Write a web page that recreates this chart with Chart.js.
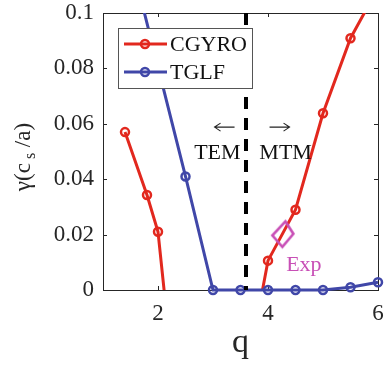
<!DOCTYPE html>
<html>
<head>
<meta charset="utf-8">
<script src="https://cdn.jsdelivr.net/npm/chart.js@4"></script>
<style>
  html, body { margin: 0; padding: 0; background: #fff; }
</style>
</head>
<body>
<canvas id="growthChart" width="391" height="365"></canvas>
<script>
// growth rate vs safety factor, CGYRO and TGLF scans
const cgyroQ     = [1.4, 1.8, 2.0, 2.2, 3.0, 3.8, 4.0, 4.5, 5.0, 5.5, 6.0];
const cgyroGamma = [0.057, 0.0343, 0.021, -0.017, null, -0.0106, 0.0106, 0.029, 0.0638, 0.0909, 0.109];

const tglfQ     = [1.5, 2.5, 3.0, 3.5, 4.0, 4.5, 5.0, 5.5, 6.0];
const tglfGamma = [0.12, 0.041, 0, 0, 0, 0, 0, 0.001, 0.0028];

const expQ     = [4.27];
const expGamma = [0.0201];

const xTicks = [2, 4, 6];
const boundaryQ = 3.6;  // TEM / MTM split

const RED = '#e2281e';
const BLUE = '#4047a8';
const MAGENTA = '#c84fb6';
const INK = '#262626';
const SERIF = "'Liberation Serif', 'Times New Roman', serif";

function toPoints(qs, gs) {
    return qs.map((q, i) => ({ x: q, y: gs[i] }));
}

// slightly skewed open diamond for the experimental point
function diamondMarker() {
    const c = document.createElement('canvas');
    c.width = 30;
    c.height = 34;
    const g = c.getContext('2d');
    g.translate(15, 17);
    g.strokeStyle = MAGENTA;
    g.lineWidth = 2.6;
    g.lineJoin = 'miter';
    g.beginPath();
    g.moveTo(2.5, -13);
    g.lineTo(10.5, -0.5);
    g.lineTo(-0.5, 12.5);
    g.lineTo(-10.5, 1);
    g.closePath();
    g.stroke();
    return c;
}

// horizontal arrow with an open head
function arrow(ctx, cx, cy, dir) {
    const half = 10;
    ctx.beginPath();
    ctx.moveTo(cx - half, cy);
    ctx.lineTo(cx + half, cy);
    const tip = cx + dir * half;
    ctx.moveTo(tip - dir * 6, cy - 4);
    ctx.lineTo(tip, cy);
    ctx.lineTo(tip - dir * 6, cy + 4);
    ctx.stroke();
}

// axes box with inward ticks, drawn under the lines
const boxPlugin = {
    id: 'box',
    beforeDatasetsDraw(chart) {
        const { ctx, chartArea: a, scales } = chart;
        ctx.save();
        ctx.strokeStyle = INK;
        ctx.lineWidth = 1;
        ctx.strokeRect(a.left + 0.5, a.top + 0.5, a.right - a.left, a.bottom - a.top);
        ctx.beginPath();
        xTicks.forEach(v => {
            const x = Math.round(scales.x.getPixelForValue(v)) + 0.5;
            ctx.moveTo(x, a.bottom); ctx.lineTo(x, a.bottom - 4);
            ctx.moveTo(x, a.top); ctx.lineTo(x, a.top + 4);
        });
        [0.02, 0.04, 0.06, 0.08].forEach(v => {
            const y = Math.round(scales.y.getPixelForValue(v)) + 0.5;
            ctx.moveTo(a.left, y); ctx.lineTo(a.left + 4, y);
            ctx.moveTo(a.right, y); ctx.lineTo(a.right - 4, y);
        });
        ctx.stroke();
        ctx.restore();
    }
};

// dashed boundary, mode labels, legend and axis titles
const overlayPlugin = {
    id: 'overlay',
    afterDatasetsDraw(chart) {
        const { ctx, chartArea: a, scales } = chart;
        const px = v => scales.x.getPixelForValue(v);
        const py = v => scales.y.getPixelForValue(v);
        ctx.save();

        // boundary line
        ctx.beginPath();
        ctx.setLineDash([12, 9]);
        ctx.strokeStyle = '#000';
        ctx.lineWidth = 4;
        const bx = px(boundaryQ);
        ctx.moveTo(bx, a.top);
        ctx.lineTo(bx, a.bottom);
        ctx.stroke();
        ctx.setLineDash([]);

        // mode labels
        ctx.strokeStyle = '#222';
        ctx.lineWidth = 1.1;
        arrow(ctx, px(3.21), py(0.0588), -1);
        arrow(ctx, px(4.21), py(0.0588), 1);

        ctx.fillStyle = '#111';
        ctx.textAlign = 'center';
        ctx.textBaseline = 'middle';
        ctx.font = '22px ' + SERIF;
        ctx.fillText('TEM', px(3.08), py(0.0495));
        ctx.fillText('MTM', px(4.32), py(0.0495));

        ctx.fillStyle = MAGENTA;
        ctx.textAlign = 'left';
        ctx.fillText('Exp', px(4.33), py(0.009));

        // legend
        const lx = a.left + 15, ly = a.top + 15;
        ctx.fillStyle = '#fff';
        ctx.fillRect(lx, ly, 134, 60);
        ctx.strokeStyle = '#555';
        ctx.lineWidth = 1;
        ctx.strokeRect(lx + 0.5, ly + 0.5, 134, 60);
        [['CGYRO', RED, ly + 16], ['TGLF', BLUE, ly + 44]].forEach(([label, color, y]) => {
            ctx.strokeStyle = color;
            ctx.lineWidth = 3;
            ctx.beginPath();
            ctx.moveTo(lx + 6, y);
            ctx.lineTo(lx + 49, y);
            ctx.stroke();
            ctx.lineWidth = 2.5;
            ctx.beginPath();
            ctx.arc(lx + 27, y, 4, 0, Math.PI * 2);
            ctx.stroke();
            ctx.fillStyle = '#111';
            ctx.textAlign = 'left';
            ctx.textBaseline = 'middle';
            ctx.font = '22px ' + SERIF;
            ctx.fillText(label, lx + 52, y + 1);
        });

        // x title
        ctx.fillStyle = INK;
        ctx.textAlign = 'center';
        ctx.textBaseline = 'alphabetic';
        ctx.font = '34px ' + SERIF;
        ctx.fillText('q', (a.left + a.right) / 2, 352);

        // y title with subscript
        ctx.translate(30, 157);
        ctx.rotate(-Math.PI / 2);
        const big = '23px ' + SERIF, small = '16px ' + SERIF;
        const parts = [['\u03b3(c', big, 0], [' s', small, 5], [' /a)', big, 0]];
        let total = 0;
        parts.forEach(([t, f]) => { ctx.font = f; total += ctx.measureText(t).width; });
        let x = -total / 2;
        ctx.textAlign = 'left';
        parts.forEach(([t, f, dy]) => {
            ctx.font = f;
            ctx.fillText(t, x, dy);
            x += ctx.measureText(t).width;
        });
        ctx.restore();
    }
};

new Chart(document.getElementById('growthChart'), {
    type: 'line',
    data: {
        datasets: [
            {
                label: 'Exp',
                data: toPoints(expQ, expGamma),
                showLine: false,
                pointStyle: diamondMarker(),
                pointRadius: 12,
                order: 0
            },
            {
                label: 'TGLF',
                data: toPoints(tglfQ, tglfGamma),
                borderColor: BLUE,
                borderWidth: 3,
                pointRadius: 4,
                pointBorderWidth: 2.5,
                pointBackgroundColor: 'rgba(0,0,0,0)',
                clip: { left: 0, top: 0, right: 8, bottom: 8 },
                order: 1
            },
            {
                label: 'CGYRO',
                data: toPoints(cgyroQ, cgyroGamma),
                borderColor: RED,
                borderWidth: 3,
                pointRadius: 4,
                pointBorderWidth: 2.5,
                pointBackgroundColor: 'rgba(0,0,0,0)',
                clip: 0,
                order: 2
            }
        ]
    },
    options: {
        responsive: false,
        animation: false,
        layout: { padding: { left: 0, top: 13, right: 0, bottom: 0 } },
        plugins: { legend: { display: false }, tooltip: { enabled: false } },
        elements: { line: { tension: 0 } },
        scales: {
            x: {
                type: 'linear',
                min: 1,
                max: 6,
                grid: { display: false, drawTicks: false },
                border: { display: false },
                afterBuildTicks: scale => { scale.ticks = xTicks.map(v => ({ value: v })); },
                afterFit: scale => {
                    scale.height = 75;
                    scale.paddingLeft = 0;
                    scale.paddingRight = 7;
                },
                ticks: {
                    padding: 10,
                    color: INK,
                    font: { family: SERIF, size: 23 },
                    maxRotation: 0
                }
            },
            y: {
                min: 0,
                max: 0.1,
                grid: { display: false, drawTicks: false },
                border: { display: false },
                afterFit: scale => {
                    scale.width = 103;
                    scale.paddingTop = 0;
                    scale.paddingBottom = 0;
                },
                ticks: {
                    stepSize: 0.02,
                    padding: 9,
                    color: INK,
                    font: { family: SERIF, size: 23 },
                    callback: v => v === 0 ? '0' : String(+v.toFixed(2))
                }
            }
        }
    },
    plugins: [boxPlugin, overlayPlugin]
});
</script>
</body>
</html>
